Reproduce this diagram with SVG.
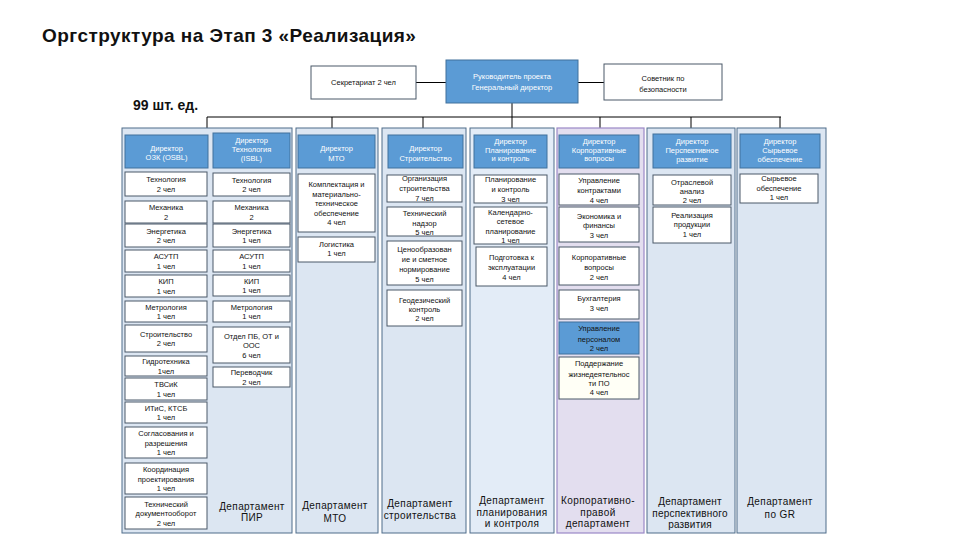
<svg xmlns="http://www.w3.org/2000/svg" width="960" height="540" viewBox="0 0 960 540">
<style>
text{font-family:"Liberation Sans",Arial,sans-serif;text-anchor:middle;fill:#111}
.title{font-size:19px;font-weight:bold;text-anchor:start;letter-spacing:0.45px}
.cnt{font-size:14px;font-weight:bold;text-anchor:start}
.col{fill:#dce6f2;stroke:#4f6d8a;stroke-width:1}
.colp{fill:#e3deef;stroke:#9a88c6;stroke-width:1.2}
.dir{fill:#5b9bd5;stroke:#41719c;stroke-width:1}
.dt{fill:#fff;font-size:7.5px}
.box{fill:#fff;stroke:#4a5868;stroke-width:1}
.bt{font-size:7.5px}
.top{fill:#fff;stroke:#4a5868;stroke-width:1}
.dep{font-size:10px;fill:#111;letter-spacing:0.4px}
.ln{stroke:#000;stroke-width:1;fill:none}
</style>
<rect width="960" height="540" fill="#fff"/>
<text class="title" x="42" y="42">Оргструктура на Этап 3 «Реализация»</text>
<text class="cnt" x="133" y="110">99 шт. ед.</text>

<g id="connectors">
<line class="ln" x1="416" y1="82.5" x2="446" y2="82.5"/>
<line class="ln" x1="578" y1="82.5" x2="604" y2="82.5"/>
<line class="ln" x1="512" y1="103" x2="512" y2="128"/>
<line class="ln" x1="207" y1="117" x2="781" y2="117"/>
<line class="ln" x1="207" y1="117" x2="207" y2="128"/>
<line class="ln" x1="332" y1="117" x2="332" y2="128"/>
<line class="ln" x1="423" y1="117" x2="423" y2="128"/>
<line class="ln" x1="600" y1="117" x2="600" y2="128"/>
<line class="ln" x1="691" y1="117" x2="691" y2="128"/>
<line class="ln" x1="780" y1="117" x2="780" y2="128"/>
</g>

<g id="secretariat"><rect class="top" x="311" y="66" width="105" height="33"/><text class="bt" x="363.5" y="85">Секретариат 2 чел</text></g>
<g id="head"><rect class="dir" x="446" y="60" width="132" height="43"/><text class="dt" x="512" y="79">Руководитель проекта</text><text class="dt" x="512" y="89.5">Генеральный директор</text></g>
<g id="security"><rect class="top" x="604" y="64" width="118" height="36"/><text class="bt" x="663" y="80.5">Советник по</text><text class="bt" x="663" y="91.5">безопасности</text></g>

<!-- containers -->
<g id="col12"><rect class="col" x="122" y="128" width="170" height="405"/></g>
<g id="col3"><rect class="col" x="296" y="128" width="82" height="405"/></g>
<g id="col4"><rect class="col" x="382" y="128" width="84" height="405"/></g>
<g id="col5"><rect class="col" x="470" y="128" width="84" height="405" style="fill:#e3ecf7"/></g>
<g id="col6"><rect class="colp" x="557" y="128" width="87" height="405"/></g>
<g id="col7"><rect class="col" x="647" y="128" width="88" height="405"/></g>
<g id="col8"><rect class="col" x="737" y="128" width="89" height="405"/></g>

<!-- sub column 1 -->
<g id="dir-ozk"><rect class="dir" x="125" y="135" width="83" height="33"/><text class="dt" x="166.5" y="150.5">Директор</text><text class="dt" x="166.5" y="160">ОЗК (OSBL)</text></g>
<g id="c1-tech"><rect class="box" x="125" y="172" width="82" height="24"/><text class="bt" x="166" y="182">Технология</text><text class="bt" x="166" y="191.5">2 чел</text></g>
<g id="c1-mech"><rect class="box" x="125" y="201" width="82" height="22"/><text class="bt" x="166" y="210">Механика</text><text class="bt" x="166" y="219.5">2</text></g>
<g id="c1-energy"><rect class="box" x="125" y="224" width="82" height="23"/><text class="bt" x="166" y="233.5">Энергетика</text><text class="bt" x="166" y="243">2 чел</text></g>
<g id="c1-asutp"><rect class="box" x="125" y="250" width="82" height="22"/><text class="bt" x="166" y="259">АСУТП</text><text class="bt" x="166" y="268.5">1 чел</text></g>
<g id="c1-kip"><rect class="box" x="125" y="275" width="82" height="22"/><text class="bt" x="166" y="284">КИП</text><text class="bt" x="166" y="293.5">1 чел</text></g>
<g id="c1-metr"><rect class="box" x="125" y="301" width="82" height="21"/><text class="bt" x="166" y="309.5">Метрология</text><text class="bt" x="166" y="319">1 чел</text></g>
<g id="c1-constr"><rect class="box" x="125" y="325" width="82" height="27"/><text class="bt" x="166" y="336.5">Строительство</text><text class="bt" x="166" y="346">2 чел</text></g>
<g id="c1-hydro"><rect class="box" x="125" y="356" width="82" height="20"/><text class="bt" x="166" y="364">Гидротехника</text><text class="bt" x="166" y="373.5">1чел</text></g>
<g id="c1-tvsik"><rect class="box" x="125" y="378" width="82" height="22"/><text class="bt" x="166" y="387">ТВСиК</text><text class="bt" x="166" y="396.5">1 чел</text></g>
<g id="c1-itis"><rect class="box" x="125" y="402" width="82" height="21"/><text class="bt" x="166" y="410.5">ИТиС, КТСБ</text><text class="bt" x="166" y="420">1 чел</text></g>
<g id="c1-sogl"><rect class="box" x="125" y="427" width="82" height="31"/><text class="bt" x="166" y="436.2">Согласования и</text><text class="bt" x="166" y="445.7">разрешения</text><text class="bt" x="166" y="455.2">1 чел</text></g>
<g id="c1-coord"><rect class="box" x="125" y="463" width="82" height="31"/><text class="bt" x="166" y="472.2">Координация</text><text class="bt" x="166" y="481.7">проектирования</text><text class="bt" x="166" y="491.2">1 чел</text></g>
<g id="c1-doc"><rect class="box" x="125" y="497" width="82" height="32"/><text class="bt" x="166" y="506.7">Технический</text><text class="bt" x="166" y="516.2">документооборот</text><text class="bt" x="166" y="525.7">2 чел</text></g>

<!-- sub column 2 -->
<g id="dir-tech"><rect class="dir" x="213" y="133" width="77" height="35"/><text class="dt" x="251.5" y="143">Директор</text><text class="dt" x="251.5" y="151.5">Технология</text><text class="dt" x="251.5" y="161">(ISBL)</text></g>
<g id="c2-tech"><rect class="box" x="213" y="173" width="77" height="23"/><text class="bt" x="251.5" y="182.5">Технология</text><text class="bt" x="251.5" y="192">2 чел</text></g>
<g id="c2-mech"><rect class="box" x="213" y="201" width="77" height="22"/><text class="bt" x="251.5" y="210">Механика</text><text class="bt" x="251.5" y="219.5">2</text></g>
<g id="c2-energy"><rect class="box" x="213" y="224" width="77" height="23"/><text class="bt" x="251.5" y="233.5">Энергетика</text><text class="bt" x="251.5" y="243">1 чел</text></g>
<g id="c2-asutp"><rect class="box" x="213" y="250" width="77" height="22"/><text class="bt" x="251.5" y="259">АСУТП</text><text class="bt" x="251.5" y="268.5">1 чел</text></g>
<g id="c2-kip"><rect class="box" x="213" y="275" width="77" height="21"/><text class="bt" x="251.5" y="283.5">КИП</text><text class="bt" x="251.5" y="293">1 чел</text></g>
<g id="c2-metr"><rect class="box" x="213" y="301" width="77" height="21"/><text class="bt" x="251.5" y="309.5">Метрология</text><text class="bt" x="251.5" y="319">1 чел</text></g>
<g id="c2-pb"><rect class="box" x="213" y="327" width="77" height="36"/><text class="bt" x="251.5" y="338.7">Отдел ПБ, ОТ и</text><text class="bt" x="251.5" y="348.2">ООС</text><text class="bt" x="251.5" y="357.7">6 чел</text></g>
<g id="c2-transl"><rect class="box" x="213" y="367" width="77" height="20"/><text class="bt" x="251.5" y="375">Переводчик</text><text class="bt" x="251.5" y="384.5">2 чел</text></g>
<g id="dep-pir"><text class="dep" x="252" y="509.5">Департамент</text><text class="dep" x="252" y="520.5">ПИР</text></g>

<!-- column 3 MTO -->
<g id="dir-mto"><rect class="dir" x="298" y="135" width="77" height="33"/><text class="dt" x="336.5" y="151">Директор</text><text class="dt" x="336.5" y="160.5">МТО</text></g>
<g id="c3-compl"><rect class="box" x="298" y="174" width="77" height="58"/><text class="bt" x="336.5" y="187">Комплектация и</text><text class="bt" x="336.5" y="196.5">материально-</text><text class="bt" x="336.5" y="206">техническое</text><text class="bt" x="336.5" y="215.5">обеспечение</text><text class="bt" x="336.5" y="225">4 чел</text></g>
<g id="c3-log"><rect class="box" x="298" y="237" width="77" height="25"/><text class="bt" x="336.5" y="246.5">Логистика</text><text class="bt" x="336.5" y="255.5">1 чел</text></g>
<g id="dep-mto"><text class="dep" x="335" y="508.5">Департамент</text><text class="dep" x="335" y="521.5">МТО</text></g>

<!-- column 4 construction -->
<g id="dir-constr"><rect class="dir" x="388" y="135" width="75" height="33"/><text class="dt" x="425.5" y="151">Директор</text><text class="dt" x="425.5" y="160.5">Строительство</text></g>
<g id="c4-org"><rect class="box" x="387" y="175" width="75" height="27"/><text class="bt" x="424.5" y="181">Организация</text><text class="bt" x="424.5" y="191">строительства</text><text class="bt" x="424.5" y="200.5">7  чел</text></g>
<g id="c4-nadzor"><rect class="box" x="387" y="207" width="75" height="29"/><text class="bt" x="424.5" y="216">Технический</text><text class="bt" x="424.5" y="225.5">надзор</text><text class="bt" x="424.5" y="235">5 чел</text></g>
<g id="c4-price"><rect class="box" x="387" y="241" width="75" height="44"/><text class="bt" x="424.5" y="252">Ценообразован</text><text class="bt" x="424.5" y="262">ие и сметное</text><text class="bt" x="424.5" y="272">нормирование</text><text class="bt" x="424.5" y="282">5 чел</text></g>
<g id="c4-geo"><rect class="box" x="387" y="290" width="75" height="36"/><text class="bt" x="424.5" y="303">Геодезический</text><text class="bt" x="424.5" y="311.5">контроль</text><text class="bt" x="424.5" y="320.5">2 чел</text></g>
<g id="dep-constr"><text class="dep" x="420" y="506.5">Департамент</text><text class="dep" x="420" y="518.5">строительства</text></g>

<!-- column 5 planning -->
<g id="dir-plan"><rect class="dir" x="474" y="135" width="73" height="33"/><text class="dt" x="510.5" y="144">Директор</text><text class="dt" x="510.5" y="152.7">Планирование</text><text class="dt" x="510.5" y="161.4">и контроль</text></g>
<g id="c5-plan"><rect class="box" x="474" y="175" width="73" height="28"/><text class="bt" x="510.5" y="182">Планирование</text><text class="bt" x="510.5" y="192">и контроль</text><text class="bt" x="510.5" y="201.5">3 чел</text></g>
<g id="c5-cal"><rect class="box" x="474" y="207" width="73" height="37"/><text class="bt" x="510.5" y="214.5">Календарно-</text><text class="bt" x="510.5" y="224">сетевое</text><text class="bt" x="510.5" y="233.5">планирование</text><text class="bt" x="510.5" y="243">1 чел</text></g>
<g id="c5-prep"><rect class="box" x="476" y="247" width="71" height="39"/><text class="bt" x="511.5" y="259.5">Подготовка к</text><text class="bt" x="511.5" y="269.5">эксплуатации</text><text class="bt" x="511.5" y="279.5">4 чел</text></g>
<g id="dep-plan"><text class="dep" x="512" y="503.5">Департамент</text><text class="dep" x="512" y="515.5">планирования</text><text class="dep" x="512" y="527">и контроля</text></g>

<!-- column 6 corporate -->
<g id="dir-corp"><rect class="dir" x="559" y="135" width="80" height="33"/><text class="dt" x="599" y="144">Директор</text><text class="dt" x="599" y="152.7">Корпоративные</text><text class="dt" x="599" y="161.4">вопросы</text></g>
<g id="c6-contr"><rect class="box" x="559" y="174" width="80" height="31"/><text class="bt" x="599" y="183">Управление</text><text class="bt" x="599" y="193">контрактами</text><text class="bt" x="599" y="203">4 чел</text></g>
<g id="c6-econ"><rect class="box" x="559" y="207" width="80" height="35"/><text class="bt" x="599" y="218.5">Экономика и</text><text class="bt" x="599" y="227.5">финансы</text><text class="bt" x="599" y="237.5">3 чел</text></g>
<g id="c6-corp"><rect class="box" x="559" y="247" width="80" height="38"/><text class="bt" x="599" y="259.5">Корпоративные</text><text class="bt" x="599" y="269.5">вопросы</text><text class="bt" x="599" y="279.5">2 чел</text></g>
<g id="c6-buh"><rect class="box" x="559" y="290" width="80" height="29"/><text class="bt" x="599" y="301">Бухгалтерия</text><text class="bt" x="599" y="310.5">3 чел</text></g>
<g id="c6-hr"><rect class="dir" x="559" y="322" width="80" height="32"/><text class="bt" x="599" y="331">Управление</text><text class="bt" x="599" y="341.5">персоналом</text><text class="bt" x="599" y="351">2 чел</text></g>
<g id="c6-support"><rect class="box" x="559" y="357" width="80" height="42" style="fill:#fffff6"/><text class="bt" x="599" y="366">Поддержание</text><text class="bt" x="599" y="376.5">жизнедеятельнос</text><text class="bt" x="599" y="386">ти ПО</text><text class="bt" x="599" y="394.5">4 чел</text></g>
<g id="dep-corp"><text class="dep" x="598" y="503.5">Корпоративно-</text><text class="dep" x="598" y="515.5">правой</text><text class="dep" x="598" y="527">департамент</text></g>

<!-- column 7 development -->
<g id="dir-dev"><rect class="dir" x="653" y="134" width="78" height="34"/><text class="dt" x="692" y="144">Директор</text><text class="dt" x="692" y="153">Перспективное</text><text class="dt" x="692" y="162">развитие</text></g>
<g id="c7-anal"><rect class="box" x="653" y="175" width="78" height="30"/><text class="bt" x="692" y="184.5">Отраслевой</text><text class="bt" x="692" y="194">анализ</text><text class="bt" x="692" y="203">2 чел</text></g>
<g id="c7-sale"><rect class="box" x="653" y="207" width="78" height="36"/><text class="bt" x="692" y="218">Реализация</text><text class="bt" x="692" y="227">продукции</text><text class="bt" x="692" y="237">1 чел</text></g>
<g id="dep-dev"><text class="dep" x="690" y="504.5" style="letter-spacing:0.2px">Департамент</text><text class="dep" x="690" y="516.5" style="letter-spacing:0.2px">перспективного</text><text class="dep" x="690" y="528" style="letter-spacing:0.2px">развития</text></g>

<!-- column 8 raw materials -->
<g id="dir-raw"><rect class="dir" x="740" y="134" width="80" height="34"/><text class="dt" x="780" y="144">Директор</text><text class="dt" x="780" y="153">Сырьевое</text><text class="dt" x="780" y="162">обеспечение</text></g>
<g id="c8-raw"><rect class="box" x="740" y="174" width="78" height="29"/><text class="bt" x="779" y="181">Сырьевое</text><text class="bt" x="779" y="190.5">обеспечение</text><text class="bt" x="779" y="199.5">1 чел</text></g>
<g id="dep-gr"><text class="dep" x="780" y="505">Департамент</text><text class="dep" x="780" y="518">по GR</text></g>
</svg>
